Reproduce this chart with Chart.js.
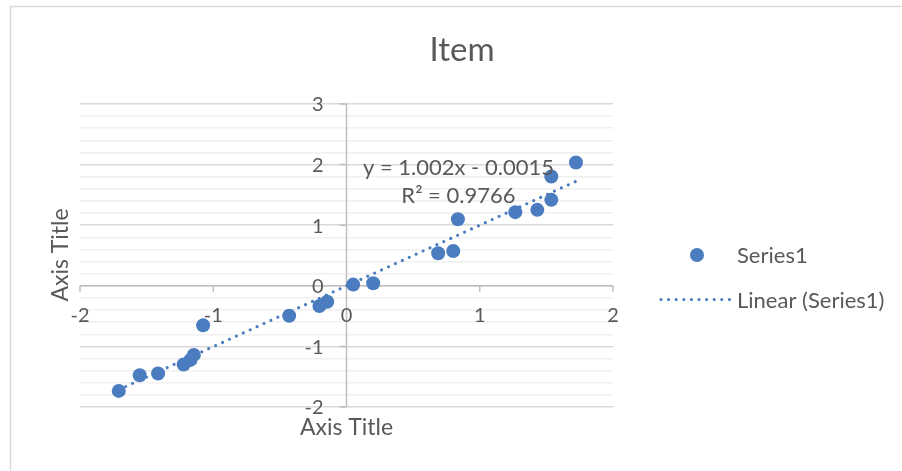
<!DOCTYPE html>
<html>
<head>
<meta charset="utf-8">
<title>Item</title>
<script src="https://cdn.jsdelivr.net/npm/chart.js@4/dist/chart.umd.min.js"></script>
<style>
  html, body { margin: 0; padding: 0; background: #ffffff; }
  canvas { display: block; }
</style>
</head>
<body>
<canvas id="chart" width="902" height="471"></canvas>
<script>
// Series1 observations
const xValues = [-1.709, -1.552, -1.414, -1.222, -1.171, -1.146, -1.076, -0.430, -0.203, -0.145,
                 0.050, 0.200, 0.688, 0.801, 0.836, 1.267, 1.432, 1.537, 1.537, 1.722];
const yValues = [-1.734, -1.475, -1.447, -1.298, -1.223, -1.140, -0.653, -0.494, -0.334, -0.263,
                 0.020, 0.041, 0.537, 0.575, 1.099, 1.215, 1.253, 1.418, 1.803, 2.035];

// Axis ticks
const xTicks = [-2, -1, 0, 1, 2];
const yTicks = [-2, -1, 0, 1, 2, 3];

// Linear trendline as printed on the chart
const trendSlope = 1.002;
const trendIntercept = -0.0015;
const trendR2 = 0.9766;

const chartTitle = 'Item';
const xTitle = 'Axis Title';
const yTitle = 'Axis Title';
const seriesName = 'Series1';
const trendName = 'Linear (Series1)';

const FONT = 'Lato, "Open Sans", "Noto Sans", sans-serif';
const TEXT = '#595959';
const BLUE = '#4A7CBF';

const points = xValues.map((x, i) => ({ x, y: yValues[i] }));
const xMin = Math.min(...xValues), xMax = Math.max(...xValues);
const trendPoints = [
  { x: xMin, y: trendSlope * xMin + trendIntercept },
  { x: xMax, y: trendSlope * xMax + trendIntercept }
];

const isWhole = v => Math.abs(v - Math.round(v)) < 1e-6;

const excelLook = {
  id: 'excelLook',
  beforeDraw(chart) {
    const ctx = chart.ctx;
    ctx.save();
    ctx.strokeStyle = '#d9d9d9';
    ctx.lineWidth = 1.5;
    ctx.strokeRect(10.5, 6.5, 1000, 1000);
    ctx.restore();
  },
  beforeDatasetsDraw(chart) {
    const ctx = chart.ctx;
    const xs = chart.scales.x, ys = chart.scales.y;
    const ax = xs.getPixelForValue(0);
    const ay = ys.getPixelForValue(0);
    ctx.save();
    ctx.strokeStyle = '#bfbfbf';
    ctx.lineWidth = 1.5;
    ctx.beginPath();
    // horizontal axis crossing at y = 0
    ctx.moveTo(xs.left, ay);
    ctx.lineTo(xs.right, ay);
    xTicks.forEach(v => {
      const px = xs.getPixelForValue(v);
      ctx.moveTo(px, ay);
      ctx.lineTo(px, ay + 6);
    });
    // vertical axis crossing at x = 0
    ctx.moveTo(ax, ys.top);
    ctx.lineTo(ax, ys.bottom);
    yTicks.forEach(v => {
      const py = ys.getPixelForValue(v);
      ctx.moveTo(ax, py);
      ctx.lineTo(ax - 7, py);
    });
    ctx.stroke();
    ctx.restore();
  },
  afterDraw(chart) {
    const ctx = chart.ctx;
    const xs = chart.scales.x, ys = chart.scales.y;
    const ax = xs.getPixelForValue(0);
    const ay = ys.getPixelForValue(0);
    ctx.save();
    ctx.fillStyle = TEXT;

    // tick labels
    ctx.font = '20px ' + FONT;
    ctx.textAlign = 'center';
    ctx.textBaseline = 'middle';
    xTicks.forEach(v => ctx.fillText(String(v), xs.getPixelForValue(v), ay + 30));
    ctx.textAlign = 'right';
    yTicks.forEach(v => ctx.fillText(String(v), ax - 23, ys.getPixelForValue(v) + 1));

    // title
    ctx.textAlign = 'center';
    ctx.font = '33px ' + FONT;
    ctx.fillText(chartTitle, 462, 50);

    // axis titles
    ctx.font = '23px ' + FONT;
    ctx.fillText(xTitle, ax, 428);
    ctx.save();
    ctx.translate(61, 255);
    ctx.rotate(-Math.PI / 2);
    ctx.fillText(yTitle, 0, 0);
    ctx.restore();

    // trendline equation
    ctx.font = '22px ' + FONT;
    const ex = xs.getPixelForValue(0.84);
    const ey = ys.getPixelForValue(1.94);
    ctx.fillText('y = ' + trendSlope.toFixed(3) + 'x - ' + Math.abs(trendIntercept).toFixed(4), ex, ey);
    ctx.fillText('R\u00B2 = ' + trendR2.toFixed(4), ex, ey + 28);

    // legend
    ctx.textAlign = 'left';
    ctx.fillStyle = BLUE;
    ctx.beginPath();
    ctx.arc(697, 255, 7, 0, Math.PI * 2);
    ctx.fill();
    ctx.strokeStyle = BLUE;
    ctx.lineWidth = 3.2;
    ctx.lineCap = 'round';
    ctx.setLineDash([0, 7.6]);
    ctx.beginPath();
    ctx.moveTo(661, 299.5);
    ctx.lineTo(730, 299.5);
    ctx.stroke();
    ctx.setLineDash([]);
    ctx.fillStyle = TEXT;
    ctx.fillText(seriesName, 737, 256);
    ctx.fillText(trendName, 737, 301);
    ctx.restore();
  }
};

new Chart(document.getElementById('chart'), {
  type: 'scatter',
  data: {
    datasets: [
      {
        label: seriesName,
        data: points,
        backgroundColor: BLUE,
        borderColor: BLUE,
        borderWidth: 0,
        pointRadius: 7,
        pointHoverRadius: 7
      },
      {
        type: 'line',
        label: trendName,
        data: trendPoints,
        borderColor: BLUE,
        borderWidth: 3.2,
        borderDash: [0, 7.6],
        borderCapStyle: 'round',
        pointRadius: 0,
        fill: false,
        tension: 0
      }
    ]
  },
  options: {
    responsive: false,
    animation: false,
    devicePixelRatio: 1,
    layout: { padding: { left: 80, right: 289, top: 104, bottom: 64 } },
    plugins: {
      legend: { display: false },
      title: { display: false },
      tooltip: { enabled: false }
    },
    scales: {
      x: {
        type: 'linear',
        min: -2,
        max: 2,
        display: true,
        grid: { display: false, drawTicks: false },
        border: { display: false },
        ticks: { display: false, stepSize: 1 }
      },
      y: {
        type: 'linear',
        min: -2,
        max: 3,
        display: true,
        grid: {
          drawTicks: false,
          lineWidth: 1.5,
          color: c => isWhole(c.tick.value) ? '#d9d9d9' : '#f0f0f0'
        },
        border: { display: false },
        ticks: { display: false, stepSize: 0.2 }
      }
    }
  },
  plugins: [excelLook]
});
</script>
</body>
</html>
